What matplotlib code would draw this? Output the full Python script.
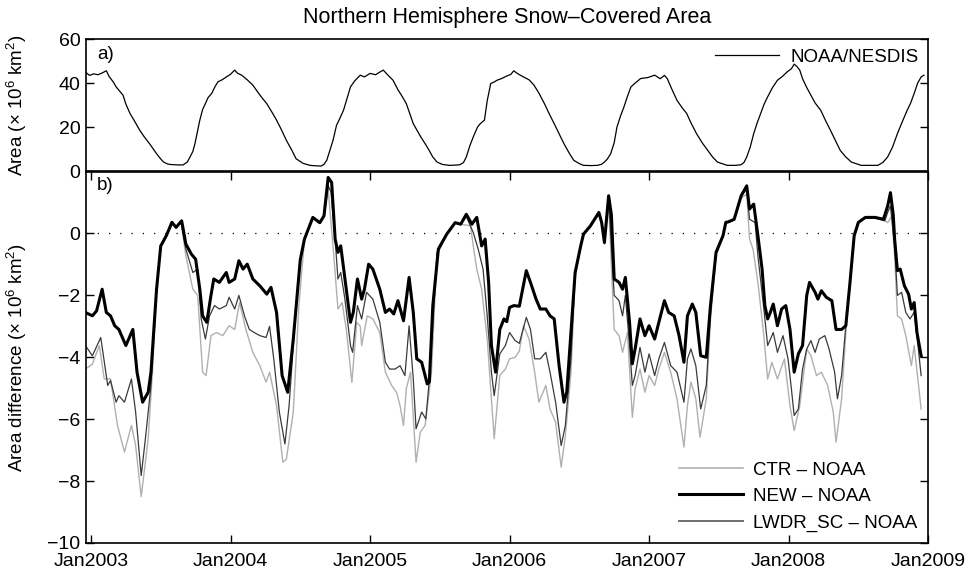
import numpy as np
import matplotlib
matplotlib.use("Agg")
import matplotlib.pyplot as plt
from matplotlib.lines import Line2D

plt.rcParams['font.family'] = ['Liberation Sans', 'DejaVu Sans']
plt.rcParams['mathtext.fontset'] = 'custom'
plt.rcParams['mathtext.rm'] = 'Liberation Sans'
plt.rcParams['mathtext.it'] = 'Liberation Sans:italic'

# x axis: decimal years, labelled at each January
tick_years = [2003, 2004, 2005, 2006, 2007, 2008, 2009]
tick_labels = ['Jan%d' % y for y in tick_years]

# a) NOAA/NESDIS snow-covered area, 10^6 km^2  (year, value)
noaa = np.array([
    (2002.96, 45.0), (2002.99, 43.5), (2003.02, 44.2), (2003.05, 43.8), (2003.08, 44.6),
    (2003.11, 45.6), (2003.13, 43.0), (2003.16, 40.5), (2003.18, 38.3), (2003.21, 36.0),
    (2003.23, 34.5), (2003.25, 30.5), (2003.28, 26.2), (2003.31, 23.0), (2003.35, 18.6),
    (2003.38, 15.8), (2003.42, 12.5), (2003.45, 9.8), (2003.47, 8.0), (2003.50, 5.6),
    (2003.52, 4.2), (2003.55, 3.3), (2003.57, 3.1), (2003.62, 2.9), (2003.66, 2.9),
    (2003.69, 4.2), (2003.71, 6.5), (2003.73, 9.0), (2003.745, 12.5), (2003.76, 17.0),
    (2003.78, 23.2), (2003.80, 28.0), (2003.82, 30.7), (2003.84, 33.5), (2003.865, 35.3),
    (2003.89, 38.5), (2003.91, 40.6), (2003.94, 41.5), (2003.97, 42.8), (2004.00, 44.0),
    (2004.03, 45.9), (2004.05, 44.5), (2004.08, 43.6), (2004.12, 41.5), (2004.16, 39.1),
    (2004.20, 35.5), (2004.23, 33.0), (2004.26, 30.7), (2004.30, 26.5), (2004.33, 23.2),
    (2004.36, 19.5), (2004.40, 14.1), (2004.44, 9.5), (2004.47, 5.7), (2004.52, 3.6),
    (2004.57, 2.7), (2004.61, 2.5), (2004.65, 2.4), (2004.67, 3.2), (2004.69, 5.0),
    (2004.71, 9.0), (2004.735, 14.1), (2004.76, 20.9), (2004.78, 23.5), (2004.81, 27.7),
    (2004.835, 33.0), (2004.86, 38.3), (2004.89, 41.0), (2004.93, 43.6), (2004.96, 42.8),
    (2005.00, 44.4), (2005.04, 43.8), (2005.07, 45.0), (2005.095, 45.9), (2005.13, 43.5),
    (2005.165, 41.3), (2005.20, 37.0), (2005.23, 34.0), (2005.26, 30.7), (2005.31, 21.6),
    (2005.36, 16.0), (2005.41, 11.0), (2005.45, 6.5), (2005.48, 4.2), (2005.52, 3.1),
    (2005.57, 2.7), (2005.61, 2.8), (2005.645, 3.0), (2005.67, 4.0), (2005.69, 6.5),
    (2005.715, 11.5), (2005.74, 15.6), (2005.77, 20.0), (2005.79, 21.6), (2005.82, 23.2),
    (2005.84, 32.0), (2005.865, 39.8), (2005.89, 40.5), (2005.91, 41.3), (2005.94, 42.0),
    (2005.98, 43.2), (2006.01, 44.0), (2006.03, 45.6), (2006.06, 44.2), (2006.10, 42.8),
    (2006.14, 41.5), (2006.175, 39.1), (2006.21, 35.5), (2006.25, 30.7), (2006.285, 26.0),
    (2006.32, 21.6), (2006.355, 17.0), (2006.39, 12.5), (2006.43, 8.0), (2006.46, 5.0),
    (2006.50, 3.5), (2006.53, 2.7), (2006.58, 2.6), (2006.63, 2.7), (2006.66, 3.2),
    (2006.68, 4.2), (2006.70, 5.5), (2006.725, 8.0), (2006.75, 13.0), (2006.77, 20.1),
    (2006.795, 25.0), (2006.82, 29.2), (2006.845, 34.0), (2006.87, 38.3), (2006.90, 40.0),
    (2006.94, 42.1), (2006.99, 42.5), (2007.04, 43.6), (2007.08, 42.0), (2007.11, 43.5),
    (2007.13, 42.1), (2007.165, 37.0), (2007.20, 32.2), (2007.235, 29.0), (2007.27, 26.2),
    (2007.30, 22.0), (2007.34, 17.1), (2007.38, 13.0), (2007.42, 9.5), (2007.455, 6.5),
    (2007.49, 4.2), (2007.56, 2.7), (2007.62, 2.7), (2007.66, 3.0), (2007.68, 4.0),
    (2007.70, 6.5), (2007.725, 11.0), (2007.75, 17.1), (2007.775, 22.0), (2007.80, 26.2),
    (2007.825, 30.5), (2007.85, 33.8), (2007.885, 38.0), (2007.92, 41.3), (2007.955, 43.0),
    (2007.99, 45.1), (2008.02, 46.5), (2008.04, 48.6), (2008.06, 47.5), (2008.08, 45.9),
    (2008.10, 42.0), (2008.13, 38.0), (2008.16, 34.5), (2008.19, 31.0), (2008.23, 27.7),
    (2008.265, 23.0), (2008.30, 18.6), (2008.335, 14.0), (2008.37, 9.5), (2008.41, 6.5),
    (2008.45, 4.2), (2008.52, 2.7), (2008.58, 2.7), (2008.64, 2.7), (2008.675, 4.0),
    (2008.71, 6.5), (2008.745, 11.0), (2008.78, 17.1), (2008.815, 22.5), (2008.85, 27.7),
    (2008.875, 31.0), (2008.90, 35.3), (2008.925, 40.0), (2008.95, 42.8), (2008.97, 43.6),
])

# b) model minus NOAA, 10^6 km^2  (year, value)
new_noaa = np.array([
    (2002.96, -2.55), (2003.01, -2.66), (2003.04, -2.50), (2003.08, -1.80), (2003.11, -2.55),
    (2003.14, -2.66), (2003.17, -2.98), (2003.20, -3.10), (2003.25, -3.62), (2003.30, -3.10),
    (2003.33, -4.48), (2003.37, -5.45), (2003.41, -5.13), (2003.43, -4.48), (2003.47, -1.80),
    (2003.50, -0.40), (2003.54, -0.07), (2003.58, 0.36), (2003.61, 0.20), (2003.65, 0.41),
    (2003.68, -0.34), (2003.72, -0.67), (2003.75, -0.83), (2003.78, -1.80), (2003.80, -2.66),
    (2003.83, -2.87), (2003.86, -2.00), (2003.88, -1.47), (2003.92, -1.58), (2003.97, -1.26),
    (2003.99, -1.58), (2004.03, -1.47), (2004.06, -0.88), (2004.09, -1.15), (2004.12, -0.99),
    (2004.16, -1.47), (2004.21, -1.69), (2004.26, -1.96), (2004.29, -1.74), (2004.33, -2.55),
    (2004.37, -4.59), (2004.41, -5.13), (2004.45, -3.41), (2004.50, -0.85), (2004.53, -0.18),
    (2004.59, 0.52), (2004.64, 0.35), (2004.67, 0.57), (2004.70, 1.81), (2004.725, 1.65),
    (2004.75, -0.18), (2004.77, -0.61), (2004.79, -0.40), (2004.82, -1.47), (2004.86, -2.87),
    (2004.88, -2.55), (2004.91, -1.47), (2004.94, -2.12), (2004.96, -1.80), (2004.99, -0.99),
    (2005.02, -1.15), (2005.07, -1.80), (2005.11, -2.55), (2005.14, -2.44), (2005.17, -2.60),
    (2005.20, -2.17), (2005.24, -2.82), (2005.28, -1.42), (2005.31, -2.55), (2005.335, -4.05),
    (2005.37, -4.16), (2005.41, -4.86), (2005.425, -4.80), (2005.45, -2.33), (2005.49, -0.50),
    (2005.55, -0.02), (2005.61, 0.35), (2005.65, 0.30), (2005.69, 0.62), (2005.73, 0.30),
    (2005.765, 0.52), (2005.80, -0.40), (2005.825, -0.18), (2005.85, -1.58), (2005.87, -3.62),
    (2005.90, -4.48), (2005.93, -3.10), (2005.96, -2.76), (2005.98, -2.85), (2006.00, -2.39),
    (2006.03, -2.33), (2006.07, -2.35), (2006.12, -1.20), (2006.15, -1.58), (2006.19, -2.12),
    (2006.22, -2.44), (2006.26, -2.44), (2006.29, -2.66), (2006.32, -2.76), (2006.355, -4.27),
    (2006.39, -5.45), (2006.41, -5.13), (2006.44, -3.20), (2006.47, -1.26), (2006.51, -0.40),
    (2006.53, -0.02), (2006.58, 0.25), (2006.64, 0.68), (2006.66, 0.36), (2006.68, -0.29),
    (2006.71, 1.22), (2006.73, 0.60), (2006.75, -1.47), (2006.785, -1.58), (2006.81, -1.80),
    (2006.83, -1.42), (2006.86, -2.87), (2006.88, -4.21), (2006.90, -3.73), (2006.935, -2.76),
    (2006.97, -3.30), (2007.00, -2.98), (2007.04, -3.41), (2007.07, -2.87), (2007.11, -2.17),
    (2007.14, -2.55), (2007.18, -2.66), (2007.215, -3.30), (2007.25, -4.16), (2007.275, -2.66),
    (2007.31, -2.28), (2007.335, -2.55), (2007.37, -3.95), (2007.41, -4.00), (2007.44, -2.33),
    (2007.48, -0.61), (2007.53, -0.07), (2007.55, 0.36), (2007.57, 0.38), (2007.61, 0.46),
    (2007.66, 1.22), (2007.70, 1.54), (2007.72, 0.79), (2007.75, 0.95), (2007.78, -0.07),
    (2007.81, -1.15), (2007.83, -2.33), (2007.85, -2.76), (2007.865, -2.60), (2007.89, -2.28),
    (2007.92, -2.98), (2007.95, -2.44), (2007.98, -2.33), (2008.01, -3.10), (2008.04, -4.48),
    (2008.07, -3.89), (2008.10, -3.62), (2008.13, -2.00), (2008.15, -1.58), (2008.19, -1.90),
    (2008.21, -2.12), (2008.235, -1.85), (2008.27, -2.06), (2008.31, -2.17), (2008.34, -3.10),
    (2008.38, -3.10), (2008.41, -2.98), (2008.44, -1.58), (2008.47, -0.07), (2008.50, 0.36),
    (2008.55, 0.52), (2008.62, 0.52), (2008.68, 0.46), (2008.71, 0.89), (2008.73, 1.32),
    (2008.75, 0.60), (2008.76, -0.18), (2008.78, -1.20), (2008.80, -1.15), (2008.83, -1.69),
    (2008.86, -1.96), (2008.88, -2.44), (2008.90, -2.23), (2008.92, -3.20), (2008.95, -3.95),
])

lwdr_noaa = np.array([
    (2002.96, -3.62), (2003.01, -3.95), (2003.07, -3.36), (2003.12, -4.91), (2003.14, -4.75),
    (2003.18, -5.45), (2003.20, -5.24), (2003.24, -5.45), (2003.29, -4.70), (2003.32, -5.77),
    (2003.36, -7.82), (2003.39, -6.63), (2003.43, -4.91), (2003.47, -1.80), (2003.50, -0.45),
    (2003.54, -0.10), (2003.58, 0.33), (2003.61, 0.18), (2003.645, 0.38), (2003.68, -0.50),
    (2003.73, -1.26), (2003.765, -1.15), (2003.79, -2.76), (2003.82, -3.41), (2003.85, -2.66),
    (2003.885, -2.33), (2003.92, -2.44), (2003.97, -2.33), (2003.99, -2.06), (2004.03, -2.44),
    (2004.06, -2.00), (2004.10, -2.66), (2004.135, -3.10), (2004.17, -3.20), (2004.21, -3.30),
    (2004.255, -3.36), (2004.28, -3.00), (2004.31, -4.05), (2004.35, -5.77), (2004.39, -6.80),
    (2004.42, -5.56), (2004.47, -2.33), (2004.50, -0.90), (2004.53, -0.20), (2004.59, 0.50),
    (2004.64, 0.33), (2004.67, 0.55), (2004.70, 1.54), (2004.72, 1.35), (2004.75, -0.18),
    (2004.77, -1.47), (2004.79, -1.26), (2004.82, -2.12), (2004.86, -3.62), (2004.875, -3.84),
    (2004.91, -2.33), (2004.94, -2.76), (2004.975, -1.90), (2005.02, -2.12), (2005.07, -2.87),
    (2005.11, -4.16), (2005.14, -4.38), (2005.18, -4.38), (2005.215, -4.27), (2005.25, -4.59),
    (2005.28, -2.98), (2005.31, -4.70), (2005.33, -6.31), (2005.37, -5.77), (2005.40, -5.99),
    (2005.43, -4.48), (2005.48, -0.61), (2005.55, -0.02), (2005.61, 0.35), (2005.65, 0.30),
    (2005.69, 0.55), (2005.74, 0.03), (2005.775, -0.50), (2005.81, -1.15), (2005.84, -2.66),
    (2005.87, -4.48), (2005.89, -5.24), (2005.93, -3.89), (2005.97, -3.62), (2006.00, -3.20),
    (2006.04, -3.46), (2006.07, -3.55), (2006.12, -2.71), (2006.15, -3.10), (2006.18, -4.05),
    (2006.22, -4.05), (2006.26, -3.84), (2006.29, -4.48), (2006.33, -5.45), (2006.37, -6.85),
    (2006.40, -6.20), (2006.44, -4.05), (2006.47, -1.30), (2006.51, -0.42), (2006.53, -0.04),
    (2006.58, 0.23), (2006.64, 0.66), (2006.66, 0.34), (2006.68, -0.31), (2006.71, 1.15),
    (2006.75, -2.00), (2006.785, -2.17), (2006.81, -2.66), (2006.83, -2.00), (2006.86, -3.62),
    (2006.88, -4.91), (2006.90, -4.59), (2006.935, -3.68), (2006.97, -4.48), (2007.00, -3.89),
    (2007.04, -4.59), (2007.07, -4.05), (2007.11, -3.52), (2007.155, -4.27), (2007.20, -4.48),
    (2007.25, -5.45), (2007.275, -4.05), (2007.30, -3.73), (2007.335, -4.27), (2007.37, -5.67),
    (2007.41, -4.91), (2007.44, -2.60), (2007.48, -0.65), (2007.53, -0.09), (2007.55, 0.34),
    (2007.57, 0.36), (2007.61, 0.44), (2007.66, 1.20), (2007.70, 1.43), (2007.72, 0.46),
    (2007.76, 0.35), (2007.78, -0.72), (2007.82, -2.33), (2007.85, -3.62), (2007.89, -3.20),
    (2007.92, -3.84), (2007.96, -3.30), (2007.996, -4.05), (2008.02, -5.02), (2008.04, -5.88),
    (2008.07, -5.67), (2008.10, -4.38), (2008.13, -3.73), (2008.16, -3.46), (2008.19, -3.84),
    (2008.22, -3.41), (2008.26, -3.30), (2008.29, -3.73), (2008.33, -4.48), (2008.35, -5.34),
    (2008.38, -4.59), (2008.41, -2.98), (2008.45, -1.04), (2008.47, -0.10), (2008.50, 0.34),
    (2008.55, 0.50), (2008.62, 0.50), (2008.69, 0.41), (2008.71, 0.68), (2008.73, 0.89),
    (2008.76, -0.40), (2008.78, -2.00), (2008.81, -1.90), (2008.84, -2.55), (2008.87, -2.76),
    (2008.90, -2.55), (2008.93, -3.73), (2008.95, -4.59),
])

ctr_noaa = np.array([
    (2002.96, -4.38), (2003.01, -4.22), (2003.06, -3.62), (2003.095, -4.70), (2003.14, -4.70),
    (2003.19, -6.20), (2003.24, -7.06), (2003.29, -6.20), (2003.32, -6.85), (2003.36, -8.50),
    (2003.41, -6.63), (2003.44, -4.50), (2003.47, -1.90), (2003.50, -0.45), (2003.54, -0.10),
    (2003.58, 0.33), (2003.61, 0.18), (2003.645, 0.38), (2003.68, -0.72), (2003.73, -1.80),
    (2003.765, -2.00), (2003.80, -4.48), (2003.825, -4.59), (2003.86, -3.30), (2003.90, -3.20),
    (2003.945, -3.30), (2003.99, -2.98), (2004.03, -3.10), (2004.065, -2.23), (2004.11, -3.10),
    (2004.16, -3.84), (2004.21, -4.27), (2004.255, -4.80), (2004.28, -4.48), (2004.33, -5.56),
    (2004.375, -7.39), (2004.40, -7.30), (2004.45, -5.77), (2004.49, -2.33), (2004.53, -0.20),
    (2004.59, 0.50), (2004.64, 0.33), (2004.67, 0.55), (2004.70, 1.43), (2004.74, -0.70),
    (2004.77, -2.44), (2004.80, -2.23), (2004.83, -3.10), (2004.87, -4.81), (2004.905, -2.87),
    (2004.93, -3.00), (2004.94, -3.62), (2004.98, -2.66), (2005.02, -2.76), (2005.07, -3.20),
    (2005.11, -4.48), (2005.155, -4.91), (2005.19, -5.13), (2005.215, -5.56), (2005.24, -6.20),
    (2005.26, -5.02), (2005.29, -4.48), (2005.33, -7.39), (2005.36, -6.42), (2005.395, -6.20),
    (2005.44, -4.50), (2005.48, -0.70), (2005.55, -0.02), (2005.61, 0.35), (2005.65, 0.30),
    (2005.72, 0.25), (2005.74, -0.40), (2005.765, -1.15), (2005.80, -1.80), (2005.84, -3.41),
    (2005.865, -5.02), (2005.89, -6.63), (2005.93, -4.59), (2005.97, -4.38), (2006.00, -4.05),
    (2006.04, -4.00), (2006.07, -3.80), (2006.10, -2.98), (2006.14, -3.41), (2006.18, -4.48),
    (2006.21, -5.45), (2006.26, -4.91), (2006.29, -5.67), (2006.33, -6.10), (2006.37, -7.55),
    (2006.40, -6.53), (2006.44, -4.50), (2006.47, -1.40), (2006.51, -0.44), (2006.53, -0.06),
    (2006.58, 0.21), (2006.64, 0.62), (2006.66, 0.30), (2006.68, -0.35), (2006.71, 1.05),
    (2006.75, -3.10), (2006.785, -3.30), (2006.81, -3.84), (2006.845, -3.20), (2006.88, -5.94),
    (2006.90, -5.02), (2006.935, -4.38), (2006.97, -5.13), (2007.00, -4.59), (2007.04, -4.91),
    (2007.07, -4.38), (2007.11, -3.84), (2007.155, -4.48), (2007.20, -5.34), (2007.25, -6.90),
    (2007.275, -5.56), (2007.30, -4.80), (2007.335, -5.34), (2007.365, -6.58), (2007.41, -5.34),
    (2007.44, -2.80), (2007.48, -0.70), (2007.53, -0.10), (2007.55, 0.33), (2007.57, 0.36),
    (2007.61, 0.44), (2007.66, 1.15), (2007.70, 1.27), (2007.72, -0.18), (2007.745, -0.50),
    (2007.78, -1.58), (2007.82, -3.20), (2007.85, -4.70), (2007.88, -4.16), (2007.92, -4.70),
    (2007.97, -4.05), (2008.01, -5.56), (2008.04, -6.37), (2008.08, -5.56), (2008.13, -3.73),
    (2008.16, -3.95), (2008.20, -4.59), (2008.235, -4.48), (2008.28, -4.91), (2008.32, -5.77),
    (2008.34, -6.74), (2008.38, -5.34), (2008.41, -3.20), (2008.45, -1.10), (2008.47, -0.10),
    (2008.50, 0.34), (2008.55, 0.50), (2008.62, 0.50), (2008.69, 0.41), (2008.71, 0.35),
    (2008.74, 0.57), (2008.76, -0.72), (2008.78, -2.66), (2008.81, -2.76), (2008.84, -3.30),
    (2008.88, -4.27), (2008.90, -3.62), (2008.95, -5.67),
])

FS = 13.5
TICK_FS = 14
ctr_color = '#b0b0b0'
lwdr_color = '#3a3a3a'

fig = plt.figure(figsize=(9.68, 5.72), dpi=100)
ax_a = fig.add_axes([0.0888, 0.7005, 0.870, 0.2313])
ax_b = fig.add_axes([0.0888, 0.0507, 0.870, 0.6493])

for ax in (ax_a, ax_b):
    ax.set_xlim(2002.964, 2009.0)
    for s in ax.spines.values():
        s.set_linewidth(1.2)
    ax.tick_params(direction='in', length=6, width=1.0, labelsize=TICK_FS,
                   left=True, right=True, top=True, bottom=True, pad=4)

# panel a
ax_a.plot(noaa[:, 0], noaa[:, 1], color='k', lw=0.9, label='NOAA/NESDIS')
ax_a.set_ylim(0, 60)
ax_a.set_yticks([0, 20, 40, 60])
ax_a.set_xticks([])
ax_a.set_ylabel('Area (\u00d7 10$^6$ km$^2$)', fontsize=FS)
ax_a.yaxis.set_label_coords(-0.068, 0.5)
ax_a.text(0.013, 0.88, 'a)', transform=ax_a.transAxes, fontsize=FS,
          ha='left', va='center')
ax_a.legend(loc='upper right', frameon=False, fontsize=FS, handlelength=3.4,
            borderaxespad=0.1, handletextpad=0.6)

# panel b
ax_b.axhline(0, color='k', lw=0.9, linestyle=(0, (1, 8)))
ax_b.plot(ctr_noaa[:, 0], ctr_noaa[:, 1], color=ctr_color, lw=1.0)
ax_b.plot(lwdr_noaa[:, 0], lwdr_noaa[:, 1], color=lwdr_color, lw=0.9)
ax_b.plot(new_noaa[:, 0], new_noaa[:, 1], color='k', lw=2.2)
ax_b.set_ylim(-10, 2)
ax_b.set_yticks([-10, -8, -6, -4, -2, 0])
ax_b.set_xticks(tick_years)
ax_b.set_xticklabels(tick_labels)
ax_b.tick_params(axis='x', pad=7)
ax_b.set_ylabel('Area difference (\u00d7 10$^6$ km$^2$)', fontsize=FS)
ax_b.yaxis.set_label_coords(-0.068, 0.5)
ax_b.text(0.013, 0.962, 'b)', transform=ax_b.transAxes, fontsize=FS,
          ha='left', va='center')

handles = [Line2D([], [], color=ctr_color, lw=1.2),
           Line2D([], [], color='k', lw=2.2),
           Line2D([], [], color='#707070', lw=1.4)]
ax_b.legend(handles, ['CTR \u2013 NOAA', 'NEW \u2013 NOAA', 'LWDR_SC \u2013 NOAA'],
            loc='lower right', frameon=False, fontsize=FS, handlelength=3.4,
            borderaxespad=0.2, handletextpad=0.5, labelspacing=0.5)

fig.text(0.524, 0.970, 'Northern Hemisphere Snow\u2013Covered Area',
         ha='center', va='center', fontsize=15.5)

fig.savefig('out.png', dpi=100)
